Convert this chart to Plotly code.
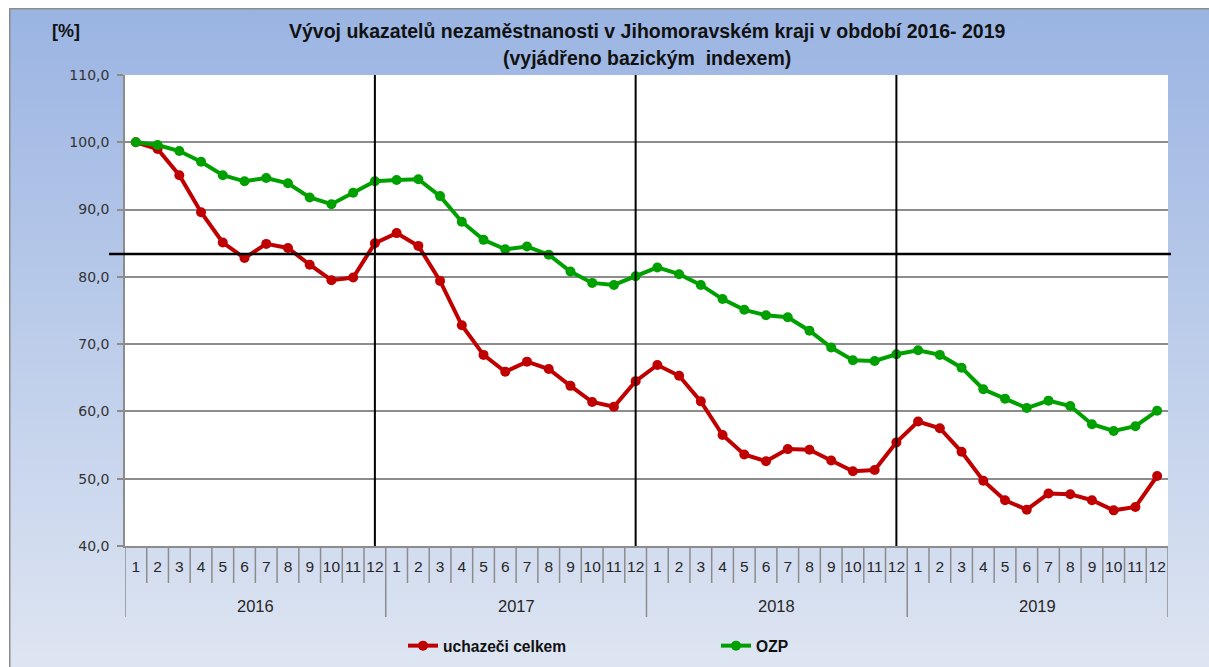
import urllib.parse
import plotly.graph_objects as go

# ---------------- data ----------------
years = ["2016", "2017", "2018", "2019"]
months = ["1", "2", "3", "4", "5", "6", "7", "8", "9", "10", "11", "12"]

uchazeci_celkem = [
    100.0, 99.0, 95.1, 89.6, 85.1, 82.8, 84.9, 84.3, 81.8, 79.5, 79.9, 85.0,
    86.5, 84.6, 79.4, 72.8, 68.4, 65.9, 67.4, 66.3, 63.8, 61.4, 60.7, 64.5,
    66.9, 65.3, 61.5, 56.5, 53.6, 52.6, 54.4, 54.3, 52.7, 51.1, 51.3, 55.4,
    58.5, 57.5, 54.0, 49.7, 46.8, 45.4, 47.8, 47.7, 46.8, 45.3, 45.8, 50.4,
]
ozp = [
    100.0, 99.6, 98.7, 97.1, 95.1, 94.2, 94.7, 93.9, 91.8, 90.8, 92.5, 94.2,
    94.4, 94.5, 92.0, 88.2, 85.5, 84.1, 84.5, 83.3, 80.8, 79.1, 78.8, 80.1,
    81.4, 80.4, 78.8, 76.7, 75.1, 74.3, 74.0, 72.0, 69.5, 67.6, 67.5, 68.5,
    69.1, 68.4, 66.5, 63.3, 61.9, 60.5, 61.6, 60.8, 58.1, 57.1, 57.8, 60.1,
]
reference_level = 83.4  # horizontal black reference line

title_text = "Vývoj ukazatelů nezaměstnanosti v Jihomoravském kraji v období 2016- 2019"
subtitle_text = "(vyjádřeno bazickým  indexem)"

# ---------------- layout constants ----------------
W, H = 1209, 667
ML, MR, MT, MB = 125, 41, 75, 121
PW, PH = W - ML - MR, H - MT - MB
FONT = "Liberation Sans"
RED = "#C00000"
GREEN = "#00A000"
GRID = "#8C8C8C"

n = len(years) * len(months)
xs = list(range(n))
tick_text = months * len(years)

fig = go.Figure()
fig.add_trace(go.Scatter(
    x=xs, y=uchazeci_celkem, name="uchazeči celkem", mode="lines+markers",
    line=dict(color=RED, width=4), marker=dict(color=RED, size=10),
))
fig.add_trace(go.Scatter(
    x=xs, y=ozp, name="OZP", mode="lines+markers",
    line=dict(color=GREEN, width=4), marker=dict(color=GREEN, size=10),
))

shapes = []
images = []

# gradient background (chart area) via svg data uri
bx0, by0 = 9, 8
gw, gh = W - bx0, H - by0
svg = (
    f"<svg xmlns='http://www.w3.org/2000/svg' width='{gw}' height='{gh}' preserveAspectRatio='none'>"
    "<defs><linearGradient id='g' x1='0' y1='0' x2='0' y2='1'>"
    "<stop offset='0' stop-color='#9AB4E2'/><stop offset='1' stop-color='#DEE5F2'/>"
    "</linearGradient></defs>"
    f"<rect x='0' y='0' width='{gw}' height='{gh}' fill='url(#g)'/>"
    f"<line x1='0.75' y1='0' x2='0.75' y2='{gh}' stroke='#8C8C8C' stroke-width='1.5'/>"
    f"<line x1='0' y1='0.75' x2='{gw}' y2='0.75' stroke='#8C8C8C' stroke-width='1.5'/>"
    "</svg>"
)
src = "data:image/svg+xml;charset=utf-8," + urllib.parse.quote(svg)
images.append(dict(
    source=src, xref="paper", yref="paper",
    x=(bx0 - ML) / PW, y=1 + (MT - by0) / PH,
    sizex=gw / PW, sizey=gh / PH,
    xanchor="left", yanchor="top", sizing="stretch", layer="below",
))
# white plot area
shapes.append(dict(type="rect", xref="paper", yref="paper", x0=0, x1=1, y0=0, y1=1,
                   fillcolor="white", line=dict(width=0), layer="below"))

# month dividers and year dividers under the x axis
for i in range(n + 1):
    is_year = (i % len(months) == 0)
    shapes.append(dict(
        type="line", xref="x", yref="paper", x0=i - 0.5, x1=i - 0.5,
        ysizemode="pixel", yanchor=0, y0=0, y1=-(71 if is_year else 37),
        line=dict(color=GRID, width=1.5),
    ))

# vertical black lines at each December (except last)
for k in range(1, len(years)):
    xv = k * len(months) - 1
    shapes.append(dict(type="line", xref="x", yref="paper", x0=xv, x1=xv, y0=0, y1=1,
                       line=dict(color="black", width=2), layer="above"))

# horizontal reference line
shapes.append(dict(type="line", xref="paper", yref="y",
                   x0=-16 / PW, x1=1 + 3 / PW, y0=reference_level, y1=reference_level,
                   line=dict(color="black", width=2.5), layer="above"))

annotations = []
for k, yr in enumerate(years):
    annotations.append(dict(
        x=k * len(months) + (len(months) - 1) / 2, y=0, xref="x", yref="paper",
        yshift=-60, yanchor="middle", text=yr, showarrow=False,
        font=dict(family=FONT, size=16.5, color="#262626"),
    ))
annotations.append(dict(x=(647 - ML) / PW, xref="paper", y=1 + (MT - 31) / PH, yref="paper",
                        xanchor="center", yanchor="middle",
                        text="<b>" + title_text + "</b>", showarrow=False,
                        font=dict(family=FONT, size=19.5, color="#111111")))
annotations.append(dict(x=(647 - ML) / PW, xref="paper", y=1 + (MT - 58) / PH, yref="paper",
                        xanchor="center", yanchor="middle",
                        text="<b>" + subtitle_text + "</b>", showarrow=False,
                        font=dict(family=FONT, size=19.5, color="#111111")))
annotations.append(dict(x=(66 - ML) / PW, xref="paper", y=1 + (MT - 31) / PH, yref="paper",
                        xanchor="center", yanchor="middle",
                        text="<b>[%]</b>", showarrow=False,
                        font=dict(family=FONT, size=18, color="#111111")))

fig.update_layout(
    width=W, height=H,
    margin=dict(l=ML, r=MR, t=MT, b=MB, pad=0, autoexpand=False),
    paper_bgcolor="white", plot_bgcolor="white",
    separators=",.",
    showlegend=True,
    legend=dict(orientation="h", x=(403 - ML) / PW, xanchor="left",
                y=-(646 - MT - PH) / PH, yanchor="middle",
                entrywidth=268, entrywidthmode="pixels",
                font=dict(family=FONT, size=15.6, color="#111111", weight="bold"),
                bgcolor="rgba(0,0,0,0)"),
    shapes=shapes, images=images, annotations=annotations,
    xaxis=dict(range=[-0.5, n - 0.5], tickmode="array", tickvals=xs, ticktext=tick_text,
               ticks="", showgrid=False, zeroline=False, showline=True,
               linecolor=GRID, linewidth=1.5,
               tickfont=dict(family=FONT, size=15.5, color="#262626"),
               ticklabelstandoff=6),
    yaxis=dict(range=[40, 110], dtick=10, tickformat=".1f", ticks="outside", ticklen=6,
               tickcolor=GRID, tickwidth=1.5, showgrid=True, gridcolor=GRID, gridwidth=1.5,
               zeroline=False, showline=True, linecolor=GRID, linewidth=1.5,
               ticklabelstandoff=5,
               tickfont=dict(family="DejaVu Sans", size=14, color="#333333")),
    font=dict(family=FONT),
)

fig.write_html("out.html", config={"displayModeBar": False},
               post_script="document.body.style.margin='0';")
